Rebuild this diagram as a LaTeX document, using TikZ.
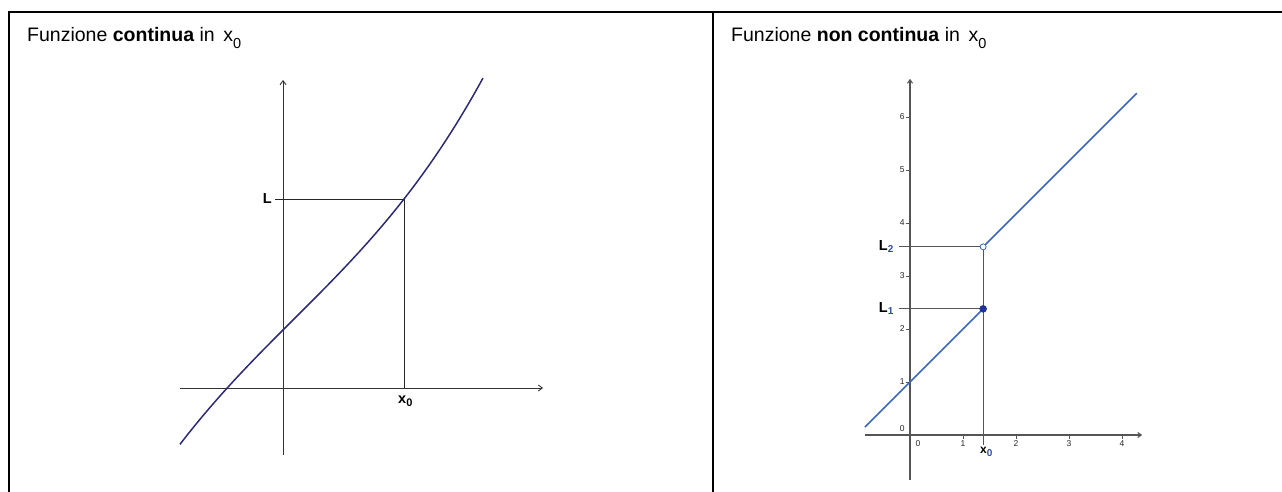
\documentclass[tikz,border=0pt]{standalone}
\usepackage{fontspec}
\setmainfont{Liberation Sans}
\usetikzlibrary{arrows.meta}
\definecolor{navy}{HTML}{2B2A78}
\definecolor{glblue}{HTML}{3A66BE}
\definecolor{dotblue}{HTML}{23339A}
\definecolor{axgray}{HTML}{555555}
\definecolor{subblue}{HTML}{2A4C9C}
\begin{document}
\begin{tikzpicture}[x=1pt,y=-1pt,
  frame/.style={line width=2pt,black},
  title/.style={anchor=base west,inner sep=0pt,font=\fontsize{19.5}{23}\selectfont},
  laxis/.style={line width=0.9pt,black!80,-{Straight Barb[length=4pt,width=6pt]}},
  thinline/.style={line width=0.9pt,black!85},
  curvest/.style={line width=1.5pt,navy},
  blbl/.style={inner sep=0pt,font=\bfseries\fontsize{14.5}{14.5}\selectfont},
  raxis/.style={line width=1.1pt,axgray,-{Straight Barb[length=3.5pt,width=5pt]}},
  rline/.style={line width=1.5pt,glblue},
  tick/.style={line width=0.9pt,axgray},
  ticklbl/.style={inner sep=0pt,font=\fontsize{8.5}{9}\selectfont,black!85},
  ]
\useasboundingbox (0,0) rectangle (1282,492);
% frame
\coordinate (ftl) at (9,12);
\coordinate (ftr) at (1282,12);
\coordinate (fbl) at (9,492);
\coordinate (fdt) at (713,12);
\coordinate (fdb) at (713,492);
\draw[frame] (fbl) -- (ftl) -- (ftr);
\draw[frame] (fdt) -- (fdb);
% titles
\node[title] (t1) at (27,42) {Funzione \textbf{continua} in \,x\raisebox{-7pt}{\fontsize{14.5}{15}\selectfont 0}};
\node[title] (t2) at (731,42) {Funzione \textbf{non continua} in \,x\raisebox{-7pt}{\fontsize{14.5}{15}\selectfont 0}};
% ---------- left graph ----------
\coordinate (lyb) at (283,455);
\coordinate (lyt) at (283,80);
\coordinate (lxl) at (180,388);
\coordinate (lxr) at (543,388);
\coordinate (lP) at (404,199);
\coordinate (lLt) at (275,199);
\coordinate (lX) at (404,388);
\draw[laxis] (lyb) -- (lyt);
\draw[laxis] (lxl) -- (lxr);
\draw[thinline] (lLt) -- (lP) -- (lX);
\begin{scope}[shift={(283,388)},x=100pt,y=1pt]
  \draw[curvest] plot[domain=-1.03:2.0,samples=80,smooth] (\x,{58+100*\x-2.62*\x*\x+7.81*\x*\x*\x});
\end{scope}
\node[blbl,anchor=east] (lL) at (272,199) {L};
\node[blbl,anchor=north west] (lx0) at (398,396) {x\raisebox{-3pt}{\fontsize{11}{11}\selectfont 0}};
% ---------- right graph ----------
\begin{scope}[shift={(910,435)},x=53pt,y=53pt]
  \coordinate (ryb) at (0,-0.85);
  \coordinate (ryt) at (0,6.72);
  \coordinate (rxl) at (-0.85,0);
  \coordinate (rxr) at (4.38,0);
  \draw[raxis] (ryb) -- (ryt);
  \draw[raxis] (rxl) -- (rxr);
  \foreach \i in {1,2,3,4} {
    \draw[tick] (\i,0) -- (\i,-0.07);
    \node[ticklbl] (xt\i) at (\i,-0.16) {\i};
  }
  \foreach \j in {1,2,3,4,5,6} {
    \draw[tick] (-0.08,\j) -- (0,\j);
    \node[ticklbl,anchor=east] (yt\j) at (-0.1,\j) {\j};
  }
  \node[ticklbl] (xt0) at (0.15,-0.16) {0};
  \node[ticklbl,anchor=east] (yt0) at (-0.1,0.13) {0};
  \coordinate (rA) at (-0.85,0.15);
  \coordinate (rP1) at (1.38,2.38);
  \coordinate (rP2) at (1.38,3.55);
  \coordinate (rB) at (4.28,6.45);
  \coordinate (rL1l) at (-0.21,2.38);
  \coordinate (rL2l) at (-0.21,3.55);
  \coordinate (rXb) at (1.38,-0.19);
  \draw[thinline,axgray,line width=1.1pt] (rL2l) -- (rP2) -- (rXb);
  \draw[thinline,axgray,line width=1.1pt] (rL1l) -- (rP1);
  \draw[rline] (rA) -- (rP1);
  \draw[rline] (rP2) -- (rB);
  \fill[dotblue] (rP1) circle (3.8pt);
  \draw[glblue,line width=0.8pt,fill=white] (rP2) circle (3pt);
  \node[blbl,anchor=east] (rL2) at (-0.31,3.55) {L\raisebox{-2pt}{\fontsize{10}{10}\selectfont\color{subblue}2}};
  \node[blbl,anchor=east] (rL1) at (-0.31,2.38) {L\raisebox{-2pt}{\fontsize{10}{10}\selectfont\color{subblue}1}};
  \node[blbl,anchor=north west,font=\bfseries\fontsize{12}{12}\selectfont] (rx0) at (1.32,-0.23) {x\raisebox{-3pt}{\fontsize{10}{10}\selectfont\color{subblue}0}};
\end{scope}
\end{tikzpicture}
\end{document}
